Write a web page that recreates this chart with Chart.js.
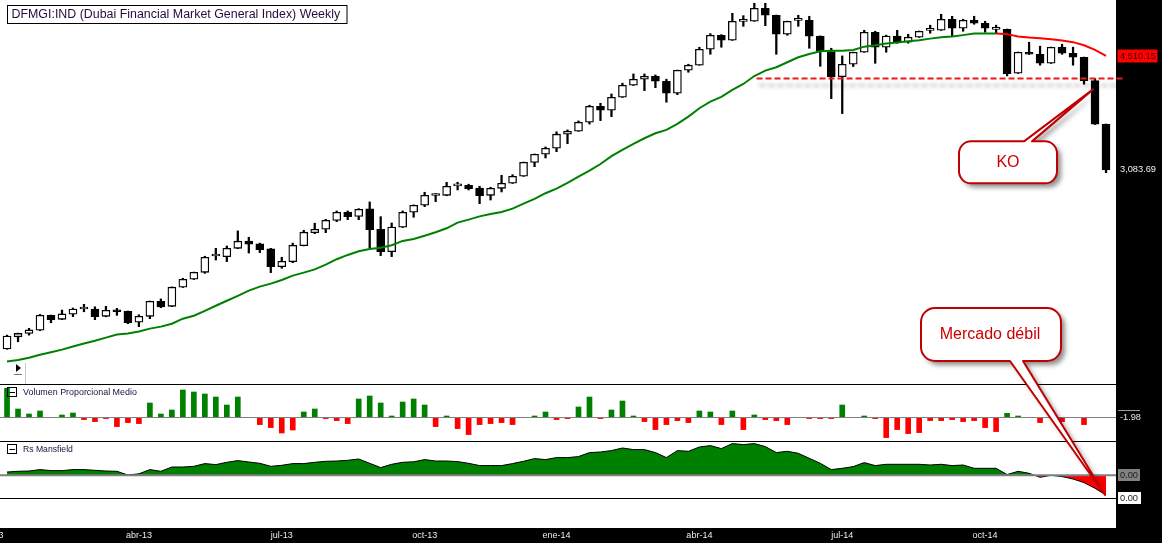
<!DOCTYPE html>
<html><head><meta charset="utf-8">
<script src="https://cdn.jsdelivr.net/npm/chart.js@4.4.1/dist/chart.umd.min.js"></script>
<style>
html,body{margin:0;padding:0;background:#fff;}
#wrap{position:relative;width:1162px;height:543px;overflow:hidden;background:#fff;}
#wrap canvas{position:absolute;left:0;}
#cMain{top:0;} #cVol{top:384px;} #cRs{top:441px;} #cOver{top:0;pointer-events:none;}
</style></head><body>
<div id="wrap">
<canvas id="cMain" width="1162" height="384"></canvas>
<canvas id="cVol" width="1162" height="57"></canvas>
<canvas id="cRs" width="1162" height="102"></canvas>
<canvas id="cOver" width="1162" height="543"></canvas>
</div>
<script>
// ---------------- DATA (weekly, DFMGI) ----------------
const opens = [1698,1768,1788,1807,1899,1874,1906,1940,1939,1893,
1935,1925,1856,1893,1990,1957,2086,2142,2192,2315,
2309,2375,2432,2410,2370,2234,2271,2396,2502,2531,
2607,2678,2642,2708,2531,2349,2548,2678,2742,2832,
2834,2925,2931,2904,2834,2901,2950,3020,3163,3250,
3316,3475,3510,3617,3814,3764,3930,4091,4174,4216,
4146,3983,4301,4374,4613,4833,4753,5062,5064,5288,
5166,4849,5079,5081,4819,4576,4210,4388,4567,4882,
4644,4819,4722,4802,4912,4914,5098,4947,5081,5030,
4928,4930,4258,4567,4536,4402,4644,4551,4491,4154,
3592];
const highs = [1778,1790,1819,1905,1901,1933,1946,1970,1954,1957,
1944,1927,1903,1992,2006,2088,2149,2194,2313,2375,
2393,2517,2464,2416,2375,2305,2416,2522,2582,2616,
2690,2690,2711,2772,2639,2584,2690,2745,2863,2850,
2960,2960,2941,2921,2911,3030,3036,3166,3253,3330,
3502,3525,3632,3827,3852,3974,4119,4248,4248,4234,
4174,4303,4388,4644,4859,4843,5200,5159,5377,5377,
5170,5066,5166,5149,4822,4628,4511,4569,4914,4898,
4835,4914,4849,4902,4998,5183,5149,5098,5149,5064,
4998,4934,4570,4722,4660,4647,4691,4644,4494,4182,
3595];
const lows = [1696,1739,1778,1805,1853,1872,1891,1922,1872,1890,
1899,1847,1829,1878,1948,1955,2084,2140,2185,2284,
2272,2372,2338,2341,2190,2222,2264,2394,2494,2502,
2596,2613,2613,2380,2318,2310,2545,2634,2729,2775,
2830,2885,2885,2756,2790,2866,2948,3018,3118,3210,
3278,3367,3508,3594,3636,3684,3927,4088,4018,4058,
3866,3964,4272,4372,4536,4644,4750,4980,5062,4990,
4536,4833,4980,4628,4358,3912,3722,4354,4565,4402,
4567,4707,4707,4798,4866,4911,4819,4898,5014,4882,
4866,4220,4255,4533,4374,4399,4536,4374,4105,3589,
3056];
const closes = [1772,1788,1809,1899,1872,1908,1939,1942,1891,1931,
1922,1853,1893,1990,1954,2086,2142,2192,2305,2319,
2375,2432,2408,2364,2234,2274,2399,2506,2531,2607,
2678,2639,2705,2528,2349,2550,2678,2742,2834,2836,
2921,2929,2898,2830,2901,2950,3020,3163,3250,3316,
3475,3510,3617,3814,3764,3930,4091,4174,4216,4146,
3983,4301,4374,4613,4833,4753,5064,5066,5288,5166,
4849,5064,5083,4819,4582,4210,4388,4567,4882,4644,
4819,4722,4802,4898,4916,5098,4947,5081,5030,4947,
4932,4252,4567,4536,4402,4644,4551,4491,4154,3592,
3083.69];
const maValues = [1628,1636,1649,1665,1679,1694,1712,1729,1745,1763,
1781,1787,1799,1817,1829,1847,1878,1897,1928,1961,
1994,2027,2062,2090,2111,2137,2168,2190,2214,2249,
2290,2323,2352,2370,2380,2399,2434,2450,2477,2506,
2539,2587,2613,2642,2663,2681,2711,2756,2800,2854,
2898,2953,3016,3077,3146,3229,3297,3364,3428,3486,
3525,3596,3685,3789,3873,3935,4027,4108,4219,4295,
4344,4417,4491,4541,4582,4591,4591,4602,4653,4675,
4701,4717,4739,4753,4779,4802,4812,4835,4861,4861,
4861,4851,4812,4796,4786,4770,4748,4723,4675,4602,
4510.15];
const volumeValues = [29,8.3,3.3,6.3,0,2.3,4.3,-2.3,-4.3,-1.3,
-9.3,-5.3,-6.3,14.3,3.3,7.3,27.3,25.3,23.3,20.3,
12.3,20.3,0,-7.3,-10.3,-15.7,-12.7,5.3,8.3,-1.3,
-3.3,-6.3,18.3,21.3,14.3,1.3,15.3,18.3,12.3,-9.3,
1.3,-11.3,-17.3,-7.3,-6.3,-5.3,-7.3,0,1.3,5.3,
-2.3,-1.3,10.3,20.3,-1.3,7.3,16.3,1.3,-4.3,-12.3,
-7.3,-3.3,-5.3,6.3,5.3,-7.3,6.3,-12.3,2.3,-2.3,
-3.3,-7.3,0,-1.3,-1.3,-1.3,12.3,0,1.3,-1.3,
-20.3,-12.3,-16.3,-15.3,-3.3,-3.3,-2.3,-4.3,-3.3,-10.3,
-14.3,4,1.3,0,-5.3,0,-4.3,0,-7.3,0,
0];
const rsValues = [3.3,4,4.3,5.7,4.7,4.7,5.7,5.7,5,4.3,
4,0.3,1.5,5.7,4,8.3,8.3,9,11.7,10.7,
13,14.7,13.3,12,9,10,11.7,11.7,13,14,
14.3,15,16.3,12,7.7,11,13,13.5,15.7,14.3,
14.3,13.7,12,9.7,9.7,9.7,11.7,14,16.7,15.7,
17.7,17.7,18.7,22.7,23.3,24.7,27.3,25.7,25.7,22.7,
17.7,24.7,24,28.3,29.7,26.7,31.7,30.7,31.7,28.7,
22.7,24,22,17,12,5.7,7,8.7,12.7,9.7,
11,11,11,11,10.3,11,9.7,10.3,7,7,
7,0.7,4,2,-2,0,-1.3,-3.7,-7.3,-13,
-19.7];
const tickLabels = ['ene-13','abr-13','jul-13','oct-13','ene-14','abr-14','jul-14','oct-14'];
const tickIndex = [-1.6,12,25,38,50,63,76,89];
const supportLevel = 4195;
const supportStart = 68.2;
const maRedFrom = 90;
const volLabel = '-1.98';
const titleText = 'DFMGI:IND (Dubai Financial Market General Index) Weekly';
const volTitle = 'Volumen Proporcional Medio';
const rsTitle = 'Rs Mansfield';
const koText = 'KO';
const weakText = 'Mercado d\u00e9bil';

// ---------------- CONFIG ----------------
const weeks = opens.map((_, i) => i);
const last = opens.length - 1;
const RIGHT_PAD = 46;
const xMin = -0.64, xMax = 100.91;
const GREEN = '#008000', RED = '#ff0000';
const FONT = '"Liberation Sans", Arial, sans-serif';

function xCfg(){ return {type:'linear', min:xMin, max:xMax, offset:false, bounds:'data', display:false}; }
function baseOpts(){
  return {responsive:false, animation:false, devicePixelRatio:1, events:[],
    plugins:{legend:{display:false}, tooltip:{enabled:false}},
    layout:{padding:{left:0,right:RIGHT_PAD,top:0,bottom:0}}};
}
function fmt(v){ return v.toLocaleString('en-US',{minimumFractionDigits:2,maximumFractionDigits:2}); }
function fitFont(ctx, text, width, weight){
  ctx.font = (weight||'') + ' 20px ' + FONT;
  const w = ctx.measureText(text).width;
  const size = 20 * width / w;
  ctx.font = (weight||'') + ' ' + size.toFixed(2) + 'px ' + FONT;
}
function panelHeader(ctx, text, textWidth){
  ctx.strokeStyle = '#000'; ctx.lineWidth = 1;
  ctx.strokeRect(7.5, 3.5, 9, 9);
  ctx.beginPath(); ctx.moveTo(9.5, 8.5); ctx.lineTo(15, 8.5); ctx.stroke();
  fitFont(ctx, text, textWidth);
  ctx.fillStyle = '#14143c'; ctx.textBaseline = 'middle'; ctx.textAlign = 'left';
  ctx.fillText(text, 23, 8.5);
}

// ---------------- MAIN (candles) ----------------
const mainDeco = {
  id:'mainDeco',
  afterDatasetsDraw(chart){
    const {ctx, chartArea:ca, scales:{x, y}} = chart;
    ctx.save();
    ctx.fillStyle = '#000';
    ctx.fillRect(ca.right, 0, chart.width - ca.right, chart.height);
    // support dashed line with shadow
    const sy = Math.round(y.getPixelForValue(supportLevel)) + 0.5;
    ctx.save();
    ctx.strokeStyle = '#f01818'; ctx.lineWidth = 2; ctx.setLineDash([6,3]);
    ctx.shadowColor = 'rgba(0,0,0,0.35)'; ctx.shadowBlur = 4; ctx.shadowOffsetY = 7; ctx.shadowOffsetX = 3;
    ctx.beginPath(); ctx.moveTo(x.getPixelForValue(supportStart), sy); ctx.lineTo(ca.right + 7, sy); ctx.stroke();
    ctx.restore();
    // right labels
    ctx.textBaseline = 'middle'; ctx.textAlign = 'left';
    const maY = y.getPixelForValue(maValues[last]);
    ctx.fillStyle = RED; ctx.fillRect(ca.right + 1.5, Math.round(maY) - 6.5, 40, 13);
    fitFont(ctx, fmt(maValues[last]), 36);
    ctx.fillStyle = '#3a0000'; ctx.fillText(fmt(maValues[last]), ca.right + 4, maY + 0.5);
    ctx.fillStyle = '#f2f2f2'; ctx.fillText(fmt(closes[last]), ca.right + 4, y.getPixelForValue(closes[last]) - 1);
    // title box
    ctx.fillStyle = '#fff'; ctx.fillRect(7.5, 5.5, 339.5, 18);
    ctx.strokeStyle = '#000'; ctx.lineWidth = 1; ctx.strokeRect(7.5, 5.5, 339.5, 18);
    fitFont(ctx, titleText, 329);
    ctx.fillStyle = '#2a0a3c'; ctx.fillText(titleText, 11.5, 14.8);
    // small play icon
    ctx.fillStyle = '#000';
    ctx.beginPath(); ctx.moveTo(16, 364); ctx.lineTo(21, 368); ctx.lineTo(16, 372); ctx.closePath(); ctx.fill();
    ctx.fillStyle = '#777'; ctx.fillRect(14, 374, 8, 1);
    ctx.fillStyle = '#c8c8c8'; ctx.fillRect(25, 363, 1, 21);
    ctx.restore();
  }
};

const mainChart = new Chart(document.getElementById('cMain'), {
  type:'bar',
  data:{datasets:[
    {type:'line', label:'Media', data: weeks.map(i => ({x:i, y:maValues[i]})),
     borderColor:GREEN, borderWidth:2, pointRadius:0, tension:0, order:1,
     segment:{borderColor: c => c.p0DataIndex >= maRedFrom ? RED : GREEN}},
    {type:'bar', label:'Cuerpo', data: weeks.map(i => ({x:i, y:[opens[i], closes[i]]})),
     backgroundColor: c => closes[c.dataIndex] >= opens[c.dataIndex] ? '#ffffff' : '#000000',
     borderColor:'#000', borderWidth:1.3, borderSkipped:false, barThickness:8, minBarLength:2,
     grouped:false, order:2},
    {type:'bar', label:'Mecha', data: weeks.map(i => ({x:i, y:[lows[i], highs[i]]})),
     backgroundColor:'#000', borderWidth:0, barThickness:1.6, grouped:false, order:3}
  ]},
  options:Object.assign(baseOpts(), {
    scales:{ x:xCfg(), y:{type:'logarithmic', min:1510.5, max:5436, bounds:'data', display:false} }
  }),
  plugins:[mainDeco]
});

// ---------------- VOLUME ----------------
const volDeco = {
  id:'volDeco',
  afterDatasetsDraw(chart){
    const {ctx, chartArea:ca, scales:{y}} = chart;
    ctx.save();
    const zy = Math.round(y.getPixelForValue(0)) + 0.5;
    ctx.strokeStyle = '#808080'; ctx.lineWidth = 1;
    ctx.beginPath(); ctx.moveTo(0, zy); ctx.lineTo(ca.right, zy); ctx.stroke();
    ctx.strokeStyle = '#000';
    ctx.beginPath(); ctx.moveTo(0, 0.5); ctx.lineTo(ca.right, 0.5); ctx.stroke();
    ctx.fillStyle = '#000'; ctx.fillRect(ca.right, 0, chart.width - ca.right, chart.height);
    ctx.strokeStyle = '#9a9a9a';
    ctx.beginPath(); ctx.moveTo(ca.right + 2, zy - 7); ctx.lineTo(ca.right + 24, zy - 7); ctx.stroke();
    fitFont(ctx, volLabel, 21);
    ctx.fillStyle = '#e8e8e8'; ctx.textBaseline = 'middle'; ctx.textAlign = 'left';
    ctx.fillText(volLabel, ca.right + 4, zy);
    panelHeader(ctx, volTitle, 114);
    ctx.restore();
  }
};
const volChart = new Chart(document.getElementById('cVol'), {
  type:'bar',
  data:{datasets:[{label:'Volumen', data: weeks.map(i => ({x:i, y:volumeValues[i]})),
    backgroundColor: c => volumeValues[c.dataIndex] >= 0 ? GREEN : RED,
    borderWidth:0, barThickness:5}]},
  options:Object.assign(baseOpts(), {
    scales:{ x:xCfg(), y:{type:'linear', min:-23.7, max:33.3, bounds:'data', display:false} }
  }),
  plugins:[volDeco]
});

// ---------------- RS MANSFIELD ----------------
const rsDeco = {
  id:'rsDeco',
  afterDatasetsDraw(chart){
    const {ctx, chartArea:ca, scales:{x, y}} = chart;
    ctx.save();
    const zy = y.getPixelForValue(0);
    ctx.strokeStyle = '#808080'; ctx.lineWidth = 2;
    ctx.beginPath(); ctx.moveTo(0, zy); ctx.lineTo(ca.right, zy); ctx.stroke();
    ctx.strokeStyle = '#000'; ctx.lineWidth = 1;
    ctx.beginPath(); ctx.moveTo(0, 0.5); ctx.lineTo(ca.right, 0.5); ctx.stroke();
    ctx.beginPath(); ctx.moveTo(0, ca.bottom + 0.5); ctx.lineTo(ca.right, ca.bottom + 0.5); ctx.stroke();
    // black bands
    ctx.fillStyle = '#000';
    ctx.fillRect(ca.right, 0, chart.width - ca.right, chart.height);
    ctx.fillRect(0, chart.height - 15, chart.width, 15);
    // x tick labels
    ctx.font = '9px ' + FONT;
    ctx.fillStyle = '#ececec'; ctx.textAlign = 'center'; ctx.textBaseline = 'middle';
    tickLabels.forEach((t, k) => ctx.fillText(t, x.getPixelForValue(tickIndex[k]), chart.height - 7.5));
    // right labels
    ctx.textAlign = 'left';
    fitFont(ctx, '0.00', 18);
    ctx.fillStyle = '#808080'; ctx.fillRect(ca.right + 2, Math.round(zy) - 6, 22, 12);
    ctx.fillStyle = '#1e1e1e'; ctx.fillText('0.00', ca.right + 4, zy);
    const ly = y.getPixelForValue(rsValues[last]) + 3;
    ctx.fillStyle = '#fff'; ctx.fillRect(ca.right + 2, Math.round(ly) - 6, 23, 12);
    ctx.fillStyle = '#1e1e1e'; ctx.fillText('0.00', ca.right + 4, ly);
    panelHeader(ctx, rsTitle, 50);
    ctx.restore();
  }
};
const rsChart = new Chart(document.getElementById('cRs'), {
  type:'line',
  data:{datasets:[{label:'Rs Mansfield', data: weeks.map(i => ({x:i, y:rsValues[i]})),
    borderColor:'#000', borderWidth:1, pointRadius:0, tension:0,
    fill:{target:'origin', above:GREEN, below:RED}}]},
  options:Object.assign(baseOpts(), {
    layout:{padding:{left:0,right:RIGHT_PAD,top:0,bottom:45}},
    scales:{ x:xCfg(), y:{type:'linear', min:-22.7, max:34.3, bounds:'data', display:false} }
  }),
  plugins:[rsDeco]
});

// ---------------- CALLOUTS (overlay) ----------------
function callout(ctx, bx, by, w, h, r, b1, b2, tx, ty, wedgeTop){
  ctx.beginPath();
  ctx.moveTo(bx + r, by);
  if (wedgeTop){ ctx.lineTo(b1, by); ctx.lineTo(tx, ty); ctx.lineTo(b2, by); }
  ctx.lineTo(bx + w - r, by);
  ctx.arcTo(bx + w, by, bx + w, by + r, r);
  ctx.lineTo(bx + w, by + h - r);
  ctx.arcTo(bx + w, by + h, bx + w - r, by + h, r);
  if (!wedgeTop){ ctx.lineTo(b2, by + h); ctx.lineTo(tx, ty); ctx.lineTo(b1, by + h); }
  ctx.lineTo(bx + r, by + h);
  ctx.arcTo(bx, by + h, bx, by + h - r, r);
  ctx.lineTo(bx, by + r);
  ctx.arcTo(bx, by, bx + r, by, r);
  ctx.closePath();
  ctx.save();
  ctx.shadowColor = 'rgba(0,0,0,0.45)'; ctx.shadowBlur = 5; ctx.shadowOffsetX = 4; ctx.shadowOffsetY = 4;
  ctx.fillStyle = '#fff'; ctx.fill();
  ctx.restore();
  ctx.strokeStyle = '#c00000'; ctx.lineWidth = 2; ctx.lineJoin = 'round'; ctx.stroke();
}
(function drawOverlay(){
  const ctx = document.getElementById('cOver').getContext('2d');
  // KO: pointing at the breakdown candle
  const kx = mainChart.scales.x.getPixelForValue(99) - 2;
  const ky = mainChart.scales.y.getPixelForValue(4035);
  callout(ctx, kx - 134, ky + 52, 98, 42, 12, kx - 69, kx - 61, kx, ky, true);
  ctx.font = '16px ' + FONT; ctx.fillStyle = '#cc0000'; ctx.textAlign = 'center'; ctx.textBaseline = 'middle';
  ctx.fillText(koText, kx - 85, ky + 73.5);
  // Mercado débil: pointing at last Rs value
  const wx = rsChart.scales.x.getPixelForValue(last) - 1;
  const wy = rsChart.scales.y.getPixelForValue(rsValues[last]) + 441;
  callout(ctx, wx - 184, wy - 187, 140, 53, 14, wx - 95, wx - 82, wx, wy, false);
  ctx.font = '16px ' + FONT; ctx.fillStyle = '#cc0000';
  ctx.fillText(weakText, wx - 115, wy - 160);
})();
</script>
</body></html>
